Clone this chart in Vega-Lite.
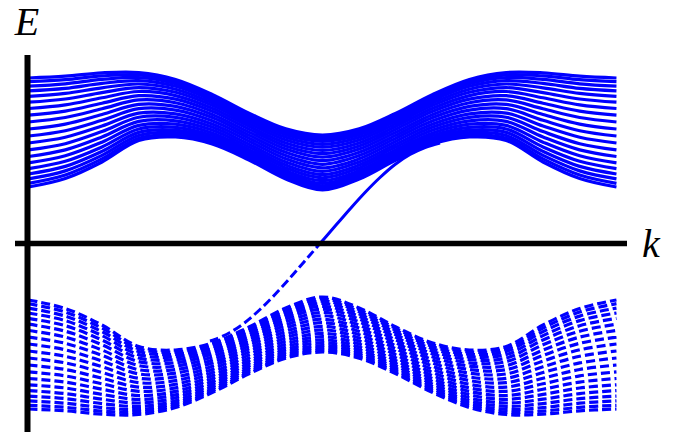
{
"$schema": "https://vega.github.io/schema/vega-lite/v6.json",
"width": 683, "height": 439, "autosize": "none", "padding": 0,
"background": "white",
"config": {"view": {"stroke": null}},
"datasets": {
"upper": [
{"n":0,"k":0,"E":1.655},{"n":0,"k":0.393,"E":1.673},{"n":0,"k":0.785,"E":1.707},{"n":0,"k":1.178,"E":1.710},{"n":0,"k":1.571,"E":1.640},{"n":0,"k":1.963,"E":1.491},{"n":0,"k":2.356,"E":1.303},{"n":0,"k":2.749,"E":1.146},{"n":0,"k":3.142,"E":1.085},{"n":0,"k":3.534,"E":1.146},{"n":0,"k":3.927,"E":1.303},{"n":0,"k":4.320,"E":1.491},{"n":0,"k":4.712,"E":1.640},{"n":0,"k":5.105,"E":1.710},{"n":0,"k":5.498,"E":1.707},{"n":0,"k":5.890,"E":1.673},{"n":0,"k":6.283,"E":1.655},
{"n":1,"k":0,"E":1.618},{"n":1,"k":0.393,"E":1.638},{"n":1,"k":0.785,"E":1.676},{"n":1,"k":1.178,"E":1.687},{"n":1,"k":1.571,"E":1.620},{"n":1,"k":1.963,"E":1.474},{"n":1,"k":2.356,"E":1.287},{"n":1,"k":2.749,"E":1.129},{"n":1,"k":3.142,"E":1.066},{"n":1,"k":3.534,"E":1.129},{"n":1,"k":3.927,"E":1.287},{"n":1,"k":4.320,"E":1.474},{"n":1,"k":4.712,"E":1.620},{"n":1,"k":5.105,"E":1.687},{"n":1,"k":5.498,"E":1.676},{"n":1,"k":5.890,"E":1.638},{"n":1,"k":6.283,"E":1.618},
{"n":2,"k":0,"E":1.574},{"n":2,"k":0.393,"E":1.597},{"n":2,"k":0.785,"E":1.641},{"n":2,"k":1.178,"E":1.660},{"n":2,"k":1.571,"E":1.597},{"n":2,"k":1.963,"E":1.454},{"n":2,"k":2.356,"E":1.268},{"n":2,"k":2.749,"E":1.109},{"n":2,"k":3.142,"E":1.044},{"n":2,"k":3.534,"E":1.109},{"n":2,"k":3.927,"E":1.268},{"n":2,"k":4.320,"E":1.454},{"n":2,"k":4.712,"E":1.597},{"n":2,"k":5.105,"E":1.660},{"n":2,"k":5.498,"E":1.641},{"n":2,"k":5.890,"E":1.597},{"n":2,"k":6.283,"E":1.574},
{"n":3,"k":0,"E":1.526},{"n":3,"k":0.393,"E":1.551},{"n":3,"k":0.785,"E":1.601},{"n":3,"k":1.178,"E":1.629},{"n":3,"k":1.571,"E":1.572},{"n":3,"k":1.963,"E":1.432},{"n":3,"k":2.356,"E":1.247},{"n":3,"k":2.749,"E":1.087},{"n":3,"k":3.142,"E":1.020},{"n":3,"k":3.534,"E":1.087},{"n":3,"k":3.927,"E":1.247},{"n":3,"k":4.320,"E":1.432},{"n":3,"k":4.712,"E":1.572},{"n":3,"k":5.105,"E":1.629},{"n":3,"k":5.498,"E":1.601},{"n":3,"k":5.890,"E":1.551},{"n":3,"k":6.283,"E":1.526},
{"n":4,"k":0,"E":1.471},{"n":4,"k":0.393,"E":1.501},{"n":4,"k":0.785,"E":1.557},{"n":4,"k":1.178,"E":1.595},{"n":4,"k":1.571,"E":1.543},{"n":4,"k":1.963,"E":1.407},{"n":4,"k":2.356,"E":1.224},{"n":4,"k":2.749,"E":1.062},{"n":4,"k":3.142,"E":0.992},{"n":4,"k":3.534,"E":1.062},{"n":4,"k":3.927,"E":1.224},{"n":4,"k":4.320,"E":1.407},{"n":4,"k":4.712,"E":1.543},{"n":4,"k":5.105,"E":1.595},{"n":4,"k":5.498,"E":1.557},{"n":4,"k":5.890,"E":1.501},{"n":4,"k":6.283,"E":1.471},
{"n":5,"k":0,"E":1.413},{"n":5,"k":0.393,"E":1.445},{"n":5,"k":0.785,"E":1.509},{"n":5,"k":1.178,"E":1.559},{"n":5,"k":1.571,"E":1.512},{"n":5,"k":1.963,"E":1.381},{"n":5,"k":2.356,"E":1.199},{"n":5,"k":2.749,"E":1.035},{"n":5,"k":3.142,"E":0.963},{"n":5,"k":3.534,"E":1.035},{"n":5,"k":3.927,"E":1.199},{"n":5,"k":4.320,"E":1.381},{"n":5,"k":4.712,"E":1.512},{"n":5,"k":5.105,"E":1.559},{"n":5,"k":5.498,"E":1.509},{"n":5,"k":5.890,"E":1.445},{"n":5,"k":6.283,"E":1.413},
{"n":6,"k":0,"E":1.350},{"n":6,"k":0.393,"E":1.386},{"n":6,"k":0.785,"E":1.457},{"n":6,"k":1.178,"E":1.520},{"n":6,"k":1.571,"E":1.479},{"n":6,"k":1.963,"E":1.352},{"n":6,"k":2.356,"E":1.172},{"n":6,"k":2.749,"E":1.006},{"n":6,"k":3.142,"E":0.931},{"n":6,"k":3.534,"E":1.006},{"n":6,"k":3.927,"E":1.172},{"n":6,"k":4.320,"E":1.352},{"n":6,"k":4.712,"E":1.479},{"n":6,"k":5.105,"E":1.520},{"n":6,"k":5.498,"E":1.457},{"n":6,"k":5.890,"E":1.386},{"n":6,"k":6.283,"E":1.350},
{"n":7,"k":0,"E":1.284},{"n":7,"k":0.393,"E":1.324},{"n":7,"k":0.785,"E":1.403},{"n":7,"k":1.178,"E":1.478},{"n":7,"k":1.571,"E":1.444},{"n":7,"k":1.963,"E":1.322},{"n":7,"k":2.356,"E":1.144},{"n":7,"k":2.749,"E":0.975},{"n":7,"k":3.142,"E":0.898},{"n":7,"k":3.534,"E":0.975},{"n":7,"k":3.927,"E":1.144},{"n":7,"k":4.320,"E":1.322},{"n":7,"k":4.712,"E":1.444},{"n":7,"k":5.105,"E":1.478},{"n":7,"k":5.498,"E":1.403},{"n":7,"k":5.890,"E":1.324},{"n":7,"k":6.283,"E":1.284},
{"n":8,"k":0,"E":1.215},{"n":8,"k":0.393,"E":1.260},{"n":8,"k":0.785,"E":1.347},{"n":8,"k":1.178,"E":1.436},{"n":8,"k":1.571,"E":1.408},{"n":8,"k":1.963,"E":1.291},{"n":8,"k":2.356,"E":1.114},{"n":8,"k":2.749,"E":0.944},{"n":8,"k":3.142,"E":0.863},{"n":8,"k":3.534,"E":0.944},{"n":8,"k":3.927,"E":1.114},{"n":8,"k":4.320,"E":1.291},{"n":8,"k":4.712,"E":1.408},{"n":8,"k":5.105,"E":1.436},{"n":8,"k":5.498,"E":1.347},{"n":8,"k":5.890,"E":1.260},{"n":8,"k":6.283,"E":1.215},
{"n":9,"k":0,"E":1.145},{"n":9,"k":0.393,"E":1.194},{"n":9,"k":0.785,"E":1.290},{"n":9,"k":1.178,"E":1.392},{"n":9,"k":1.571,"E":1.371},{"n":9,"k":1.963,"E":1.259},{"n":9,"k":2.356,"E":1.084},{"n":9,"k":2.749,"E":0.912},{"n":9,"k":3.142,"E":0.828},{"n":9,"k":3.534,"E":0.912},{"n":9,"k":3.927,"E":1.084},{"n":9,"k":4.320,"E":1.259},{"n":9,"k":4.712,"E":1.371},{"n":9,"k":5.105,"E":1.392},{"n":9,"k":5.498,"E":1.290},{"n":9,"k":5.890,"E":1.194},{"n":9,"k":6.283,"E":1.145},
{"n":10,"k":0,"E":1.075},{"n":10,"k":0.393,"E":1.128},{"n":10,"k":0.785,"E":1.232},{"n":10,"k":1.178,"E":1.348},{"n":10,"k":1.571,"E":1.334},{"n":10,"k":1.963,"E":1.227},{"n":10,"k":2.356,"E":1.054},{"n":10,"k":2.749,"E":0.879},{"n":10,"k":3.142,"E":0.792},{"n":10,"k":3.534,"E":0.879},{"n":10,"k":3.927,"E":1.054},{"n":10,"k":4.320,"E":1.227},{"n":10,"k":4.712,"E":1.334},{"n":10,"k":5.105,"E":1.348},{"n":10,"k":5.498,"E":1.232},{"n":10,"k":5.890,"E":1.128},{"n":10,"k":6.283,"E":1.075},
{"n":11,"k":0,"E":1.005},{"n":11,"k":0.393,"E":1.063},{"n":11,"k":0.785,"E":1.175},{"n":11,"k":1.178,"E":1.304},{"n":11,"k":1.571,"E":1.297},{"n":11,"k":1.963,"E":1.195},{"n":11,"k":2.356,"E":1.024},{"n":11,"k":2.749,"E":0.847},{"n":11,"k":3.142,"E":0.757},{"n":11,"k":3.534,"E":0.847},{"n":11,"k":3.927,"E":1.024},{"n":11,"k":4.320,"E":1.195},{"n":11,"k":4.712,"E":1.297},{"n":11,"k":5.105,"E":1.304},{"n":11,"k":5.498,"E":1.175},{"n":11,"k":5.890,"E":1.063},{"n":11,"k":6.283,"E":1.005},
{"n":12,"k":0,"E":0.936},{"n":12,"k":0.393,"E":0.998},{"n":12,"k":0.785,"E":1.119},{"n":12,"k":1.178,"E":1.262},{"n":12,"k":1.571,"E":1.261},{"n":12,"k":1.963,"E":1.164},{"n":12,"k":2.356,"E":0.994},{"n":12,"k":2.749,"E":0.816},{"n":12,"k":3.142,"E":0.722},{"n":12,"k":3.534,"E":0.816},{"n":12,"k":3.927,"E":0.994},{"n":12,"k":4.320,"E":1.164},{"n":12,"k":4.712,"E":1.261},{"n":12,"k":5.105,"E":1.262},{"n":12,"k":5.498,"E":1.119},{"n":12,"k":5.890,"E":0.998},{"n":12,"k":6.283,"E":0.936},
{"n":13,"k":0,"E":0.870},{"n":13,"k":0.393,"E":0.936},{"n":13,"k":0.785,"E":1.065},{"n":13,"k":1.178,"E":1.221},{"n":13,"k":1.571,"E":1.226},{"n":13,"k":1.963,"E":1.134},{"n":13,"k":2.356,"E":0.966},{"n":13,"k":2.749,"E":0.785},{"n":13,"k":3.142,"E":0.689},{"n":13,"k":3.534,"E":0.785},{"n":13,"k":3.927,"E":0.966},{"n":13,"k":4.320,"E":1.134},{"n":13,"k":4.712,"E":1.226},{"n":13,"k":5.105,"E":1.221},{"n":13,"k":5.498,"E":1.065},{"n":13,"k":5.890,"E":0.936},{"n":13,"k":6.283,"E":0.870},
{"n":14,"k":0,"E":0.807},{"n":14,"k":0.393,"E":0.877},{"n":14,"k":0.785,"E":1.013},{"n":14,"k":1.178,"E":1.181},{"n":14,"k":1.571,"E":1.193},{"n":14,"k":1.963,"E":1.105},{"n":14,"k":2.356,"E":0.939},{"n":14,"k":2.749,"E":0.756},{"n":14,"k":3.142,"E":0.657},{"n":14,"k":3.534,"E":0.756},{"n":14,"k":3.927,"E":0.939},{"n":14,"k":4.320,"E":1.105},{"n":14,"k":4.712,"E":1.193},{"n":14,"k":5.105,"E":1.181},{"n":14,"k":5.498,"E":1.013},{"n":14,"k":5.890,"E":0.877},{"n":14,"k":6.283,"E":0.807},
{"n":15,"k":0,"E":0.749},{"n":15,"k":0.393,"E":0.822},{"n":15,"k":0.785,"E":0.965},{"n":15,"k":1.178,"E":1.145},{"n":15,"k":1.571,"E":1.162},{"n":15,"k":1.963,"E":1.079},{"n":15,"k":2.356,"E":0.914},{"n":15,"k":2.749,"E":0.729},{"n":15,"k":3.142,"E":0.628},{"n":15,"k":3.534,"E":0.729},{"n":15,"k":3.927,"E":0.914},{"n":15,"k":4.320,"E":1.079},{"n":15,"k":4.712,"E":1.162},{"n":15,"k":5.105,"E":1.145},{"n":15,"k":5.498,"E":0.965},{"n":15,"k":5.890,"E":0.822},{"n":15,"k":6.283,"E":0.749},
{"n":16,"k":0,"E":0.695},{"n":16,"k":0.393,"E":0.771},{"n":16,"k":0.785,"E":0.921},{"n":16,"k":1.178,"E":1.111},{"n":16,"k":1.571,"E":1.133},{"n":16,"k":1.963,"E":1.054},{"n":16,"k":2.356,"E":0.891},{"n":16,"k":2.749,"E":0.705},{"n":16,"k":3.142,"E":0.600},{"n":16,"k":3.534,"E":0.705},{"n":16,"k":3.927,"E":0.891},{"n":16,"k":4.320,"E":1.054},{"n":16,"k":4.712,"E":1.133},{"n":16,"k":5.105,"E":1.111},{"n":16,"k":5.498,"E":0.921},{"n":16,"k":5.890,"E":0.771},{"n":16,"k":6.283,"E":0.695},
{"n":17,"k":0,"E":0.646},{"n":17,"k":0.393,"E":0.726},{"n":17,"k":0.785,"E":0.881},{"n":17,"k":1.178,"E":1.080},{"n":17,"k":1.571,"E":1.108},{"n":17,"k":1.963,"E":1.032},{"n":17,"k":2.356,"E":0.870},{"n":17,"k":2.749,"E":0.682},{"n":17,"k":3.142,"E":0.576},{"n":17,"k":3.534,"E":0.682},{"n":17,"k":3.927,"E":0.870},{"n":17,"k":4.320,"E":1.032},{"n":17,"k":4.712,"E":1.108},{"n":17,"k":5.105,"E":1.080},{"n":17,"k":5.498,"E":0.881},{"n":17,"k":5.890,"E":0.726},{"n":17,"k":6.283,"E":0.646},
{"n":18,"k":0,"E":0.602},{"n":18,"k":0.393,"E":0.685},{"n":18,"k":0.785,"E":0.846},{"n":18,"k":1.178,"E":1.053},{"n":18,"k":1.571,"E":1.085},{"n":18,"k":1.963,"E":1.012},{"n":18,"k":2.356,"E":0.851},{"n":18,"k":2.749,"E":0.662},{"n":18,"k":3.142,"E":0.554},{"n":18,"k":3.534,"E":0.662},{"n":18,"k":3.927,"E":0.851},{"n":18,"k":4.320,"E":1.012},{"n":18,"k":4.712,"E":1.085},{"n":18,"k":5.105,"E":1.053},{"n":18,"k":5.498,"E":0.846},{"n":18,"k":5.890,"E":0.685},{"n":18,"k":6.283,"E":0.602},
{"n":19,"k":0,"E":0.565},{"n":19,"k":0.393,"E":0.650},{"n":19,"k":0.785,"E":0.815},{"n":19,"k":1.178,"E":1.030},{"n":19,"k":1.571,"E":1.065},{"n":19,"k":1.963,"E":0.995},{"n":19,"k":2.356,"E":0.835},{"n":19,"k":2.749,"E":0.645},{"n":19,"k":3.142,"E":0.535},{"n":19,"k":3.534,"E":0.645},{"n":19,"k":3.927,"E":0.835},{"n":19,"k":4.320,"E":0.995},{"n":19,"k":4.712,"E":1.065},{"n":19,"k":5.105,"E":1.030},{"n":19,"k":5.498,"E":0.815},{"n":19,"k":5.890,"E":0.650},{"n":19,"k":6.283,"E":0.565}
],
"lower": [
{"n":0,"k":0,"E":-1.655},{"n":0,"k":0.393,"E":-1.673},{"n":0,"k":0.785,"E":-1.707},{"n":0,"k":1.178,"E":-1.710},{"n":0,"k":1.571,"E":-1.640},{"n":0,"k":1.963,"E":-1.491},{"n":0,"k":2.356,"E":-1.303},{"n":0,"k":2.749,"E":-1.146},{"n":0,"k":3.142,"E":-1.085},{"n":0,"k":3.534,"E":-1.146},{"n":0,"k":3.927,"E":-1.303},{"n":0,"k":4.320,"E":-1.491},{"n":0,"k":4.712,"E":-1.640},{"n":0,"k":5.105,"E":-1.710},{"n":0,"k":5.498,"E":-1.707},{"n":0,"k":5.890,"E":-1.673},{"n":0,"k":6.283,"E":-1.655},
{"n":1,"k":0,"E":-1.618},{"n":1,"k":0.393,"E":-1.638},{"n":1,"k":0.785,"E":-1.676},{"n":1,"k":1.178,"E":-1.687},{"n":1,"k":1.571,"E":-1.620},{"n":1,"k":1.963,"E":-1.474},{"n":1,"k":2.356,"E":-1.287},{"n":1,"k":2.749,"E":-1.129},{"n":1,"k":3.142,"E":-1.066},{"n":1,"k":3.534,"E":-1.129},{"n":1,"k":3.927,"E":-1.287},{"n":1,"k":4.320,"E":-1.474},{"n":1,"k":4.712,"E":-1.620},{"n":1,"k":5.105,"E":-1.687},{"n":1,"k":5.498,"E":-1.676},{"n":1,"k":5.890,"E":-1.638},{"n":1,"k":6.283,"E":-1.618},
{"n":2,"k":0,"E":-1.574},{"n":2,"k":0.393,"E":-1.597},{"n":2,"k":0.785,"E":-1.641},{"n":2,"k":1.178,"E":-1.660},{"n":2,"k":1.571,"E":-1.597},{"n":2,"k":1.963,"E":-1.454},{"n":2,"k":2.356,"E":-1.268},{"n":2,"k":2.749,"E":-1.109},{"n":2,"k":3.142,"E":-1.044},{"n":2,"k":3.534,"E":-1.109},{"n":2,"k":3.927,"E":-1.268},{"n":2,"k":4.320,"E":-1.454},{"n":2,"k":4.712,"E":-1.597},{"n":2,"k":5.105,"E":-1.660},{"n":2,"k":5.498,"E":-1.641},{"n":2,"k":5.890,"E":-1.597},{"n":2,"k":6.283,"E":-1.574},
{"n":3,"k":0,"E":-1.526},{"n":3,"k":0.393,"E":-1.551},{"n":3,"k":0.785,"E":-1.601},{"n":3,"k":1.178,"E":-1.629},{"n":3,"k":1.571,"E":-1.572},{"n":3,"k":1.963,"E":-1.432},{"n":3,"k":2.356,"E":-1.247},{"n":3,"k":2.749,"E":-1.087},{"n":3,"k":3.142,"E":-1.020},{"n":3,"k":3.534,"E":-1.087},{"n":3,"k":3.927,"E":-1.247},{"n":3,"k":4.320,"E":-1.432},{"n":3,"k":4.712,"E":-1.572},{"n":3,"k":5.105,"E":-1.629},{"n":3,"k":5.498,"E":-1.601},{"n":3,"k":5.890,"E":-1.551},{"n":3,"k":6.283,"E":-1.526},
{"n":4,"k":0,"E":-1.471},{"n":4,"k":0.393,"E":-1.501},{"n":4,"k":0.785,"E":-1.557},{"n":4,"k":1.178,"E":-1.595},{"n":4,"k":1.571,"E":-1.543},{"n":4,"k":1.963,"E":-1.407},{"n":4,"k":2.356,"E":-1.224},{"n":4,"k":2.749,"E":-1.062},{"n":4,"k":3.142,"E":-0.992},{"n":4,"k":3.534,"E":-1.062},{"n":4,"k":3.927,"E":-1.224},{"n":4,"k":4.320,"E":-1.407},{"n":4,"k":4.712,"E":-1.543},{"n":4,"k":5.105,"E":-1.595},{"n":4,"k":5.498,"E":-1.557},{"n":4,"k":5.890,"E":-1.501},{"n":4,"k":6.283,"E":-1.471},
{"n":5,"k":0,"E":-1.413},{"n":5,"k":0.393,"E":-1.445},{"n":5,"k":0.785,"E":-1.509},{"n":5,"k":1.178,"E":-1.559},{"n":5,"k":1.571,"E":-1.512},{"n":5,"k":1.963,"E":-1.381},{"n":5,"k":2.356,"E":-1.199},{"n":5,"k":2.749,"E":-1.035},{"n":5,"k":3.142,"E":-0.963},{"n":5,"k":3.534,"E":-1.035},{"n":5,"k":3.927,"E":-1.199},{"n":5,"k":4.320,"E":-1.381},{"n":5,"k":4.712,"E":-1.512},{"n":5,"k":5.105,"E":-1.559},{"n":5,"k":5.498,"E":-1.509},{"n":5,"k":5.890,"E":-1.445},{"n":5,"k":6.283,"E":-1.413},
{"n":6,"k":0,"E":-1.350},{"n":6,"k":0.393,"E":-1.386},{"n":6,"k":0.785,"E":-1.457},{"n":6,"k":1.178,"E":-1.520},{"n":6,"k":1.571,"E":-1.479},{"n":6,"k":1.963,"E":-1.352},{"n":6,"k":2.356,"E":-1.172},{"n":6,"k":2.749,"E":-1.006},{"n":6,"k":3.142,"E":-0.931},{"n":6,"k":3.534,"E":-1.006},{"n":6,"k":3.927,"E":-1.172},{"n":6,"k":4.320,"E":-1.352},{"n":6,"k":4.712,"E":-1.479},{"n":6,"k":5.105,"E":-1.520},{"n":6,"k":5.498,"E":-1.457},{"n":6,"k":5.890,"E":-1.386},{"n":6,"k":6.283,"E":-1.350},
{"n":7,"k":0,"E":-1.284},{"n":7,"k":0.393,"E":-1.324},{"n":7,"k":0.785,"E":-1.403},{"n":7,"k":1.178,"E":-1.478},{"n":7,"k":1.571,"E":-1.444},{"n":7,"k":1.963,"E":-1.322},{"n":7,"k":2.356,"E":-1.144},{"n":7,"k":2.749,"E":-0.975},{"n":7,"k":3.142,"E":-0.898},{"n":7,"k":3.534,"E":-0.975},{"n":7,"k":3.927,"E":-1.144},{"n":7,"k":4.320,"E":-1.322},{"n":7,"k":4.712,"E":-1.444},{"n":7,"k":5.105,"E":-1.478},{"n":7,"k":5.498,"E":-1.403},{"n":7,"k":5.890,"E":-1.324},{"n":7,"k":6.283,"E":-1.284},
{"n":8,"k":0,"E":-1.215},{"n":8,"k":0.393,"E":-1.260},{"n":8,"k":0.785,"E":-1.347},{"n":8,"k":1.178,"E":-1.436},{"n":8,"k":1.571,"E":-1.408},{"n":8,"k":1.963,"E":-1.291},{"n":8,"k":2.356,"E":-1.114},{"n":8,"k":2.749,"E":-0.944},{"n":8,"k":3.142,"E":-0.863},{"n":8,"k":3.534,"E":-0.944},{"n":8,"k":3.927,"E":-1.114},{"n":8,"k":4.320,"E":-1.291},{"n":8,"k":4.712,"E":-1.408},{"n":8,"k":5.105,"E":-1.436},{"n":8,"k":5.498,"E":-1.347},{"n":8,"k":5.890,"E":-1.260},{"n":8,"k":6.283,"E":-1.215},
{"n":9,"k":0,"E":-1.145},{"n":9,"k":0.393,"E":-1.194},{"n":9,"k":0.785,"E":-1.290},{"n":9,"k":1.178,"E":-1.392},{"n":9,"k":1.571,"E":-1.371},{"n":9,"k":1.963,"E":-1.259},{"n":9,"k":2.356,"E":-1.084},{"n":9,"k":2.749,"E":-0.912},{"n":9,"k":3.142,"E":-0.828},{"n":9,"k":3.534,"E":-0.912},{"n":9,"k":3.927,"E":-1.084},{"n":9,"k":4.320,"E":-1.259},{"n":9,"k":4.712,"E":-1.371},{"n":9,"k":5.105,"E":-1.392},{"n":9,"k":5.498,"E":-1.290},{"n":9,"k":5.890,"E":-1.194},{"n":9,"k":6.283,"E":-1.145},
{"n":10,"k":0,"E":-1.075},{"n":10,"k":0.393,"E":-1.128},{"n":10,"k":0.785,"E":-1.232},{"n":10,"k":1.178,"E":-1.348},{"n":10,"k":1.571,"E":-1.334},{"n":10,"k":1.963,"E":-1.227},{"n":10,"k":2.356,"E":-1.054},{"n":10,"k":2.749,"E":-0.879},{"n":10,"k":3.142,"E":-0.792},{"n":10,"k":3.534,"E":-0.879},{"n":10,"k":3.927,"E":-1.054},{"n":10,"k":4.320,"E":-1.227},{"n":10,"k":4.712,"E":-1.334},{"n":10,"k":5.105,"E":-1.348},{"n":10,"k":5.498,"E":-1.232},{"n":10,"k":5.890,"E":-1.128},{"n":10,"k":6.283,"E":-1.075},
{"n":11,"k":0,"E":-1.005},{"n":11,"k":0.393,"E":-1.063},{"n":11,"k":0.785,"E":-1.175},{"n":11,"k":1.178,"E":-1.304},{"n":11,"k":1.571,"E":-1.297},{"n":11,"k":1.963,"E":-1.195},{"n":11,"k":2.356,"E":-1.024},{"n":11,"k":2.749,"E":-0.847},{"n":11,"k":3.142,"E":-0.757},{"n":11,"k":3.534,"E":-0.847},{"n":11,"k":3.927,"E":-1.024},{"n":11,"k":4.320,"E":-1.195},{"n":11,"k":4.712,"E":-1.297},{"n":11,"k":5.105,"E":-1.304},{"n":11,"k":5.498,"E":-1.175},{"n":11,"k":5.890,"E":-1.063},{"n":11,"k":6.283,"E":-1.005},
{"n":12,"k":0,"E":-0.936},{"n":12,"k":0.393,"E":-0.998},{"n":12,"k":0.785,"E":-1.119},{"n":12,"k":1.178,"E":-1.262},{"n":12,"k":1.571,"E":-1.261},{"n":12,"k":1.963,"E":-1.164},{"n":12,"k":2.356,"E":-0.994},{"n":12,"k":2.749,"E":-0.816},{"n":12,"k":3.142,"E":-0.722},{"n":12,"k":3.534,"E":-0.816},{"n":12,"k":3.927,"E":-0.994},{"n":12,"k":4.320,"E":-1.164},{"n":12,"k":4.712,"E":-1.261},{"n":12,"k":5.105,"E":-1.262},{"n":12,"k":5.498,"E":-1.119},{"n":12,"k":5.890,"E":-0.998},{"n":12,"k":6.283,"E":-0.936},
{"n":13,"k":0,"E":-0.870},{"n":13,"k":0.393,"E":-0.936},{"n":13,"k":0.785,"E":-1.065},{"n":13,"k":1.178,"E":-1.221},{"n":13,"k":1.571,"E":-1.226},{"n":13,"k":1.963,"E":-1.134},{"n":13,"k":2.356,"E":-0.966},{"n":13,"k":2.749,"E":-0.785},{"n":13,"k":3.142,"E":-0.689},{"n":13,"k":3.534,"E":-0.785},{"n":13,"k":3.927,"E":-0.966},{"n":13,"k":4.320,"E":-1.134},{"n":13,"k":4.712,"E":-1.226},{"n":13,"k":5.105,"E":-1.221},{"n":13,"k":5.498,"E":-1.065},{"n":13,"k":5.890,"E":-0.936},{"n":13,"k":6.283,"E":-0.870},
{"n":14,"k":0,"E":-0.807},{"n":14,"k":0.393,"E":-0.877},{"n":14,"k":0.785,"E":-1.013},{"n":14,"k":1.178,"E":-1.181},{"n":14,"k":1.571,"E":-1.193},{"n":14,"k":1.963,"E":-1.105},{"n":14,"k":2.356,"E":-0.939},{"n":14,"k":2.749,"E":-0.756},{"n":14,"k":3.142,"E":-0.657},{"n":14,"k":3.534,"E":-0.756},{"n":14,"k":3.927,"E":-0.939},{"n":14,"k":4.320,"E":-1.105},{"n":14,"k":4.712,"E":-1.193},{"n":14,"k":5.105,"E":-1.181},{"n":14,"k":5.498,"E":-1.013},{"n":14,"k":5.890,"E":-0.877},{"n":14,"k":6.283,"E":-0.807},
{"n":15,"k":0,"E":-0.749},{"n":15,"k":0.393,"E":-0.822},{"n":15,"k":0.785,"E":-0.965},{"n":15,"k":1.178,"E":-1.145},{"n":15,"k":1.571,"E":-1.162},{"n":15,"k":1.963,"E":-1.079},{"n":15,"k":2.356,"E":-0.914},{"n":15,"k":2.749,"E":-0.729},{"n":15,"k":3.142,"E":-0.628},{"n":15,"k":3.534,"E":-0.729},{"n":15,"k":3.927,"E":-0.914},{"n":15,"k":4.320,"E":-1.079},{"n":15,"k":4.712,"E":-1.162},{"n":15,"k":5.105,"E":-1.145},{"n":15,"k":5.498,"E":-0.965},{"n":15,"k":5.890,"E":-0.822},{"n":15,"k":6.283,"E":-0.749},
{"n":16,"k":0,"E":-0.695},{"n":16,"k":0.393,"E":-0.771},{"n":16,"k":0.785,"E":-0.921},{"n":16,"k":1.178,"E":-1.111},{"n":16,"k":1.571,"E":-1.133},{"n":16,"k":1.963,"E":-1.054},{"n":16,"k":2.356,"E":-0.891},{"n":16,"k":2.749,"E":-0.705},{"n":16,"k":3.142,"E":-0.600},{"n":16,"k":3.534,"E":-0.705},{"n":16,"k":3.927,"E":-0.891},{"n":16,"k":4.320,"E":-1.054},{"n":16,"k":4.712,"E":-1.133},{"n":16,"k":5.105,"E":-1.111},{"n":16,"k":5.498,"E":-0.921},{"n":16,"k":5.890,"E":-0.771},{"n":16,"k":6.283,"E":-0.695},
{"n":17,"k":0,"E":-0.646},{"n":17,"k":0.393,"E":-0.726},{"n":17,"k":0.785,"E":-0.881},{"n":17,"k":1.178,"E":-1.080},{"n":17,"k":1.571,"E":-1.108},{"n":17,"k":1.963,"E":-1.032},{"n":17,"k":2.356,"E":-0.870},{"n":17,"k":2.749,"E":-0.682},{"n":17,"k":3.142,"E":-0.576},{"n":17,"k":3.534,"E":-0.682},{"n":17,"k":3.927,"E":-0.870},{"n":17,"k":4.320,"E":-1.032},{"n":17,"k":4.712,"E":-1.108},{"n":17,"k":5.105,"E":-1.080},{"n":17,"k":5.498,"E":-0.881},{"n":17,"k":5.890,"E":-0.726},{"n":17,"k":6.283,"E":-0.646},
{"n":18,"k":0,"E":-0.602},{"n":18,"k":0.393,"E":-0.685},{"n":18,"k":0.785,"E":-0.846},{"n":18,"k":1.178,"E":-1.053},{"n":18,"k":1.571,"E":-1.085},{"n":18,"k":1.963,"E":-1.012},{"n":18,"k":2.356,"E":-0.851},{"n":18,"k":2.749,"E":-0.662},{"n":18,"k":3.142,"E":-0.554},{"n":18,"k":3.534,"E":-0.662},{"n":18,"k":3.927,"E":-0.851},{"n":18,"k":4.320,"E":-1.012},{"n":18,"k":4.712,"E":-1.085},{"n":18,"k":5.105,"E":-1.053},{"n":18,"k":5.498,"E":-0.846},{"n":18,"k":5.890,"E":-0.685},{"n":18,"k":6.283,"E":-0.602},
{"n":19,"k":0,"E":-0.565},{"n":19,"k":0.393,"E":-0.650},{"n":19,"k":0.785,"E":-0.815},{"n":19,"k":1.178,"E":-1.030},{"n":19,"k":1.571,"E":-1.065},{"n":19,"k":1.963,"E":-0.995},{"n":19,"k":2.356,"E":-0.835},{"n":19,"k":2.749,"E":-0.645},{"n":19,"k":3.142,"E":-0.535},{"n":19,"k":3.534,"E":-0.645},{"n":19,"k":3.927,"E":-0.835},{"n":19,"k":4.320,"E":-0.995},{"n":19,"k":4.712,"E":-1.065},{"n":19,"k":5.105,"E":-1.030},{"n":19,"k":5.498,"E":-0.815},{"n":19,"k":5.890,"E":-0.650},{"n":19,"k":6.283,"E":-0.565}
],
"edge": [
{"k":1.9395,"E":-0.975},{"k":1.993,"E":-0.96},{"k":2.1532,"E":-0.89},{"k":2.3135,"E":-0.79},{"k":2.4738,"E":-0.66},{"k":2.6341,"E":-0.51},{"k":2.7944,"E":-0.345},{"k":2.9013,"E":-0.23},{"k":3.0081,"E":-0.115},{"k":3.115,"E":0},{"k":3.2218,"E":0.115},{"k":3.3287,"E":0.23},{"k":3.4356,"E":0.345},{"k":3.5959,"E":0.51},{"k":3.7561,"E":0.66},{"k":3.9164,"E":0.79},{"k":4.0767,"E":0.89},{"k":4.2371,"E":0.96},{"k":4.3973,"E":1.005}
]
},
"encoding": {
"x": {"field":"k","type":"quantitative","scale":{"domain":[-0.3046,6.994],"nice":false,"zero":false},"axis":null},
"y": {"field":"E","type":"quantitative","scale":{"domain":[-1.955,2.435],"nice":false,"zero":false},"axis":null}
},
"layer": [
{"data":{"name":"upper"},"mark":{"type":"line","color":"#0000ff","strokeWidth":3.2,"interpolate":"catmull-rom"},"encoding":{"detail":{"field":"n","type":"nominal"}}},
{"data":{"name":"lower"},"mark":{"type":"line","color":"#0000ff","strokeWidth":3.2,"strokeDash":[9,4],"strokeCap":"butt","interpolate":"catmull-rom"},"encoding":{"detail":{"field":"n","type":"nominal"}}},
{"data":{"name":"edge"},"transform":[{"filter":"datum.E <= 0"}],"mark":{"type":"line","color":"#0000ff","strokeWidth":3,"strokeDash":[9,4],"strokeCap":"butt","interpolate":"catmull-rom"},"encoding":{}},
{"data":{"name":"edge"},"transform":[{"filter":"datum.E >= 0"}],"mark":{"type":"line","color":"#0000ff","strokeWidth":3,"interpolate":"catmull-rom"},"encoding":{}},
{"data":{"values":[{"k":-0.0107,"E":1.885,"E2":-1.885}]},"mark":{"type":"rule","color":"black","strokeWidth":6,"strokeCap":"butt"},"encoding":{"y2":{"field":"E2"}}},
{"data":{"values":[{"k":-0.1443,"k2":6.3956,"E":0}]},"mark":{"type":"rule","color":"black","strokeWidth":5.5,"strokeCap":"butt"},"encoding":{"x2":{"field":"k2"}}},
{"data":{"values":[{"t":"E","k":-0.016,"E":2.085},{"t":"k","k":6.652,"E":-0.135}]},"mark":{"type":"text","font":"Liberation Serif","fontStyle":"italic","fontSize":40,"align":"center","baseline":"alphabetic","color":"black"},"encoding":{"text":{"field":"t"}}}
]
}
